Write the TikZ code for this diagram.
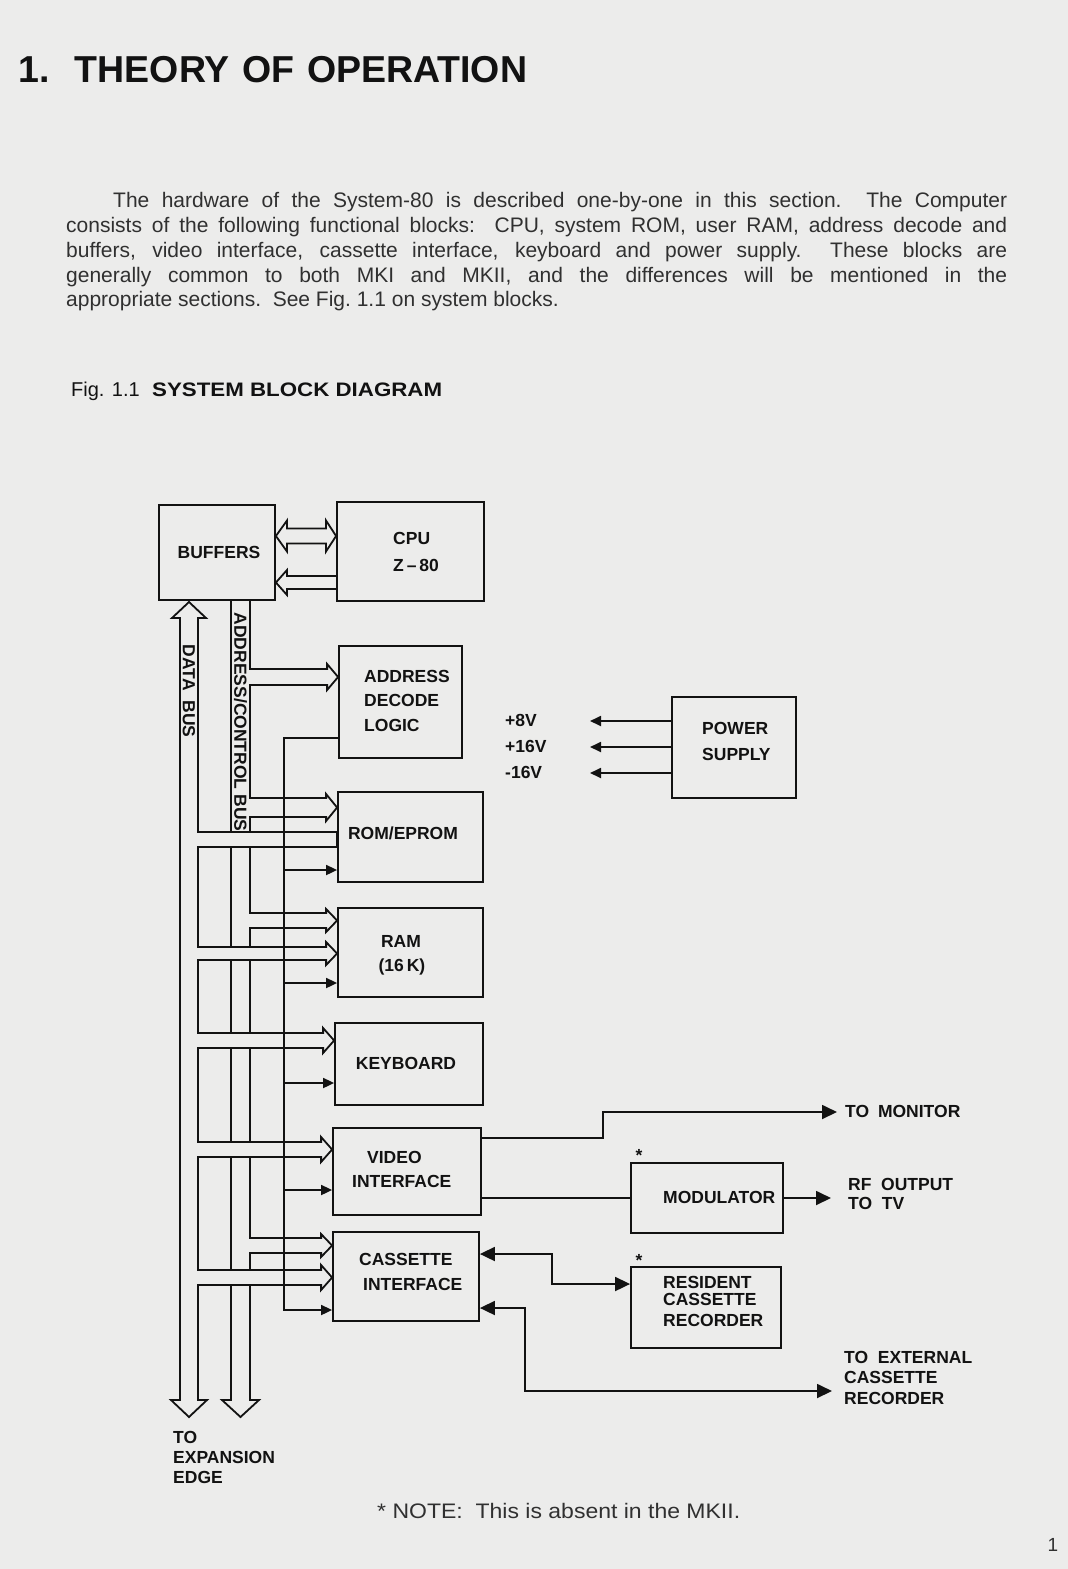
\documentclass[tikz,border=0pt]{standalone}
\usepackage{fontspec}
\setmainfont{Liberation Sans}
\usepackage{graphicx}
\usetikzlibrary{arrows.meta}
\definecolor{paper}{RGB}{236,236,235}
\definecolor{ink}{RGB}{18,18,18}
\definecolor{bodyink}{RGB}{48,48,48}
\newcommand\lblfont{\fontsize{17.5}{20}\selectfont\bfseries}
\newcommand\bodyfont{\fontsize{21}{25}\selectfont}
\tikzset{
  FH/.tip={Triangle[length=15pt,width=14pt]},
  CH/.tip={Triangle[length=11pt,width=10pt]},
  ln/.style={draw=ink,line width=1.8pt},
  blk/.style={draw=ink,line width=1.8pt,inner sep=0pt,rectangle},
  lbl/.style={inner sep=0pt,text=ink,font=\lblfont},
  bodyline/.style={inner sep=0pt,anchor=base west,text=bodyink,font=\bodyfont},
}
\begin{document}
\begin{tikzpicture}[x=1pt,y=-1pt]
\fill[paper] (0,0) rectangle (1068,1569);
\useasboundingbox (0,0) rectangle (1068,1569);

% ---------- page text ----------
\node[anchor=base west,inner sep=0pt,text=ink,font=\fontsize{37.5}{40}\selectfont\bfseries] (title) at (18,82)
  {\makebox[509pt][s]{1.\hspace{5pt} THEORY OF OPERATION}};
\node[bodyline] (p1) at (113,207) {\makebox[894pt][s]{The hardware of the System-80 is described one-by-one in this section.\ \ The Computer}};
\node[bodyline] (p2) at (66,232) {\makebox[941pt][s]{consists of the following functional blocks:\ \ CPU, system ROM, user RAM, address decode and}};
\node[bodyline] (p3) at (66,257) {\makebox[941pt][s]{buffers, video interface, cassette interface, keyboard and power supply.\ \ These blocks are}};
\node[bodyline] (p4) at (66,282) {\makebox[941pt][s]{generally common to both MKI and MKII, and the differences will be mentioned in the}};
\node[bodyline] (p5) at (66,306) {appropriate sections.\ \ See Fig.~1.1 on system blocks.};
\node[anchor=base west,inner sep=0pt,text=ink,font=\fontsize{20}{24}\selectfont] (fig) at (71,396.5) {Fig. 1.1};
\node[anchor=base west,inner sep=0pt,text=ink,font=\fontsize{19.5}{24}\selectfont\bfseries] (figt) at (152,396.5)
  {\resizebox{290pt}{\height}{SYSTEM BLOCK DIAGRAM}};
\node[bodyline] (note) at (377,1518) {\resizebox{363pt}{\height}{*\ NOTE:\ \ This is absent in the MKII.}};
\node[inner sep=0pt,text=bodyink,font=\fontsize{19}{20}\selectfont] (pg) at (1053,1545) {1};

% ---------- blocks ----------
\node[blk,minimum width=116pt,minimum height=95pt] (buf) at (217,552.5) {};
\node[blk,minimum width=147pt,minimum height=99pt] (cpu) at (410.5,551.5) {};
\node[blk,minimum width=123pt,minimum height=112pt] (adl) at (400.5,702) {};
\node[blk,minimum width=145pt,minimum height=90pt] (rom) at (410.5,837) {};
\node[blk,minimum width=145pt,minimum height=89pt] (ram) at (410.5,952.5) {};
\node[blk,minimum width=148pt,minimum height=82pt] (kbd) at (409,1064) {};
\node[blk,minimum width=148pt,minimum height=87pt] (vid) at (407,1171.5) {};
\node[blk,minimum width=146pt,minimum height=89pt] (cas) at (406,1276.5) {};
\node[blk,minimum width=152pt,minimum height=70pt] (mod) at (707,1198) {};
\node[blk,minimum width=150pt,minimum height=81pt] (rcr) at (706,1307.5) {};
\node[blk,minimum width=124pt,minimum height=101pt] (psu) at (734,747.5) {};

\foreach \n in {adl,rom,ram,kbd,vid,cas} \coordinate (B\n) at ([xshift=-11pt]\n.west);

% ---------- block labels ----------
\node[lbl] (tbuf) at (219,552) {BUFFERS};
\node[lbl,anchor=west] (tcpu) at (393,538) {CPU};
\node[lbl,anchor=west] (tz80) at (393,565) {Z\,–\,80};
\node[lbl,anchor=west] (tadl1) at (364,676) {ADDRESS};
\node[lbl,anchor=west] (tadl2) at (364,700) {DECODE};
\node[lbl,anchor=west] (tadl3) at (364,725) {LOGIC};
\node[lbl] (trom) at (403,833) {ROM/EPROM};
\node[lbl] (tram1) at (401,941) {RAM};
\node[lbl] (tram2) at (402,967) {(16\,K)};
\node[lbl] (tkbd) at (406,1063) {KEYBOARD};
\node[lbl,anchor=west] (tvid1) at (367,1157) {VIDEO};
\node[lbl,anchor=west] (tvid2) at (352,1181) {INTERFACE};
\node[lbl,anchor=west] (tcas1) at (359,1259) {CASSETTE};
\node[lbl,anchor=west] (tcas2) at (363,1284) {INTERFACE};
\node[lbl,anchor=west] (tmod) at (663,1197) {MODULATOR};
\node[lbl,anchor=west] (trcr1) at (663,1282.5) {RESIDENT};
\node[lbl,anchor=west] (trcr2) at (663,1299) {CASSETTE};
\node[lbl,anchor=west] (trcr3) at (663,1320) {RECORDER};
\node[lbl,anchor=west] (tpsu1) at (702,728) {POWER};
\node[lbl,anchor=west] (tpsu2) at (702,754) {SUPPLY};
\node[lbl,anchor=west] (tv1) at (505,720) {+8V};
\node[lbl,anchor=west] (tv2) at (505,746) {+16V};
\node[lbl,anchor=west] (tv3) at (505,772) {-16V};
\node[lbl] (ast1) at (639,1155) {*};
\node[lbl] (ast2) at (639,1260) {*};
\node[lbl,anchor=west] (tmon) at (845,1111) {TO\hspace{4pt} MONITOR};
\node[lbl,anchor=west] (trf1) at (848,1184) {RF\ \ OUTPUT};
\node[lbl,anchor=west] (trf2) at (848,1203) {TO\ \ TV};
\node[lbl,anchor=west] (text1) at (844,1357) {TO\ \ EXTERNAL};
\node[lbl,anchor=west] (text2) at (844,1377) {CASSETTE};
\node[lbl,anchor=west] (text3) at (844,1398) {RECORDER};
\node[lbl,anchor=west] (texp1) at (173,1437) {TO};
\node[lbl,anchor=west] (texp2) at (173,1457) {EXPANSION};
\node[lbl,anchor=west] (texp3) at (173,1477) {EDGE};
\node[lbl,rotate=-90] (tdbus) at (189,691) {DATA\ \ BUS};
\node[lbl,rotate=-90] (tabus) at (240.5,722) {ADDRESS/CONTROL BUS};

% ---------- buffers <-> cpu ----------
\draw[ln] (buf.east|-0,536) -- (287,520.5) -- (287,528.5) -- (326,528.5) -- (326,520.5)
  -- (cpu.west|-0,536) -- (326,551.5) -- (326,543.5) -- (287,543.5) -- (287,551.5) -- cycle;
\draw[ln] (cpu.west|-0,576) -- (287,576) -- (287,570) -- (buf.east|-0,582.5)
  -- (287,595) -- (287,589) -- (cpu.west|-0,589);

% ---------- data bus ----------
\draw[ln] (198,618) -- (198,832) -- (rom.west|-0,832)
  -- (rom.west|-0,847) -- (198,847)
  -- (198,947) -- (Bram|-0,947) -- (Bram|-0,942) -- (ram.west|-0,953.5) -- (Bram|-0,965) -- (Bram|-0,960) -- (198,960)
  -- (198,1033) -- (Bkbd|-0,1033) -- (Bkbd|-0,1028) -- (kbd.west|-0,1040.5) -- (Bkbd|-0,1053) -- (Bkbd|-0,1048) -- (198,1048)
  -- (198,1142) -- (Bvid|-0,1142) -- (Bvid|-0,1137) -- (vid.west|-0,1149.5) -- (Bvid|-0,1162) -- (Bvid|-0,1157) -- (198,1157)
  -- (198,1270) -- (Bcas|-0,1270) -- (Bcas|-0,1265) -- (cas.west|-0,1277.5) -- (Bcas|-0,1290) -- (Bcas|-0,1285) -- (198,1285)
  -- (198,1400) -- (207,1400) -- (189,1417) -- (171,1400) -- (180,1400)
  -- (180,618) -- (172,618) -- (189,602) -- (206,618) -- cycle;

% ---------- address / control bus ----------
\draw[ln] (250,600) -- (250,669) -- (Badl|-0,669) -- (Badl|-0,664) -- (adl.west|-0,677) -- (Badl|-0,690) -- (Badl|-0,685) -- (250,685)
  -- (250,798) -- (Brom|-0,798) -- (Brom|-0,794) -- (rom.west|-0,807.5) -- (Brom|-0,821) -- (Brom|-0,817) -- (250,817) -- (250,832);
\draw[ln] (250,847) -- (250,913) -- (Bram|-0,913) -- (Bram|-0,909) -- (ram.west|-0,920.5) -- (Bram|-0,932) -- (Bram|-0,928) -- (250,928) -- (250,947);
\draw[ln] (250,960) -- (250,1033);
\draw[ln] (250,1048) -- (250,1142);
\draw[ln] (250,1157) -- (250,1238) -- (Bcas|-0,1238) -- (Bcas|-0,1234) -- (cas.west|-0,1245.5) -- (Bcas|-0,1257) -- (Bcas|-0,1253) -- (250,1253) -- (250,1270);
\draw[ln] (250,1285) -- (250,1400) -- (259,1400) -- (240.5,1417) -- (222,1400) -- (231,1400) -- (231,1285);
\foreach \a/\b in {600/832, 847/947, 960/1033, 1048/1142, 1157/1270} \draw[ln] (231,\a) -- (231,\b);

% ---------- control line from address decode ----------
\draw[ln,-CH] (adl.west|-0,738) -- (284,738) -- (284,1310) -- (cas.west|-0,1310);
\foreach \n/\y in {rom/870,ram/983,kbd/1083,vid/1190} \draw[ln,-CH] (284,\y) -- (\n.west|-0,\y);

% ---------- right side ----------
\coordinate (mon) at (837,1112);
\coordinate (rf) at (831,1198);
\coordinate (ext) at (832,1391);
\draw[ln,-FH] (vid.east|-0,1138) -- (603,1138) -- (603,1112) -- (mon);
\draw[ln] (vid.east|-mod.west) -- (mod.west);
\draw[ln,-FH] (mod.east) -- (rf);
\draw[ln,FH-FH] (cas.east|-0,1254) -- (552,1254) -- (552,1284) -- (rcr.west|-0,1284);
\draw[ln,FH-FH] (cas.east|-0,1308) -- (525,1308) -- (525,1391) -- (ext);

% ---------- power supply ----------
\coordinate (v8) at (590,721);
\coordinate (v16) at (590,747);
\coordinate (vm16) at (590,773);
\draw[ln,-CH] (psu.west|-v8) -- (v8);
\draw[ln,-CH] (psu.west|-v16) -- (v16);
\draw[ln,-CH] (psu.west|-vm16) -- (vm16);
\end{tikzpicture}
\end{document}
